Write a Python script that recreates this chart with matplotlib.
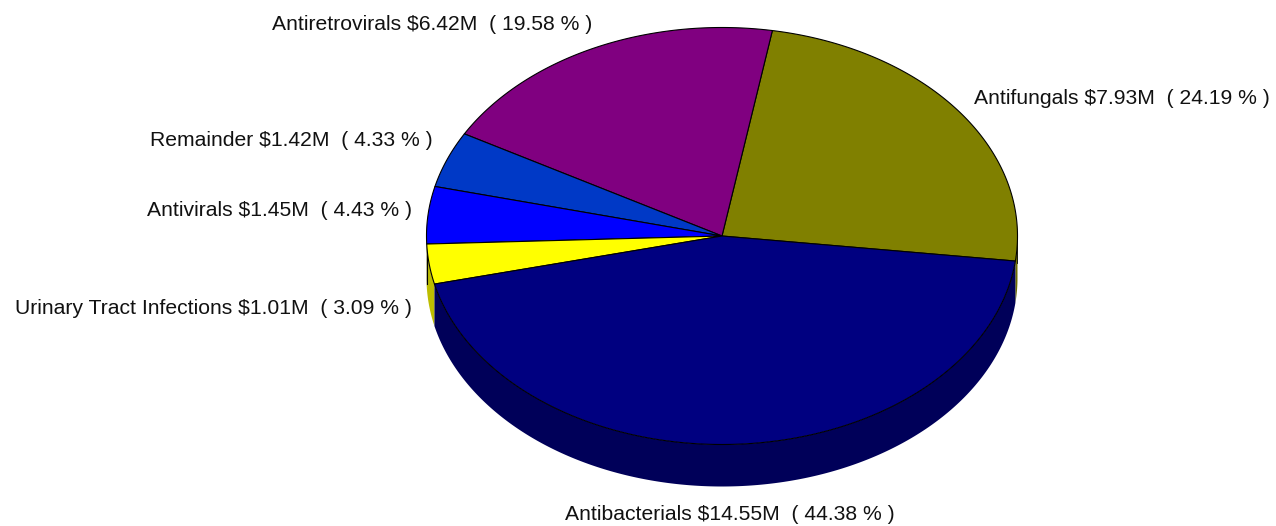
import numpy as np
import matplotlib
matplotlib.use("Agg")
import matplotlib.pyplot as plt
from matplotlib.patches import Polygon

plt.rcParams['font.family'] = ['Liberation Sans', 'DejaVu Sans']

categories = ["Antifungals", "Antiretrovirals", "Remainder", "Antivirals",
              "Urinary Tract Infections", "Antibacterials"]
amounts = ["$7.93M", "$6.42M", "$1.42M", "$1.45M", "$1.01M", "$14.55M"]
percents = [24.19, 19.58, 4.33, 4.43, 3.09, 44.38]
top_colors = ["#808000", "#800080", "#0039C6", "#0000FF", "#FFFF00", "#000080"]
side_colors = ["#6E6E00", "#500050", "#00248A", "#00009E", "#BDBD00", "#000059"]

START_ANGLE = -6.9
CX, CY, RX, RY, DEPTH = 722, 236, 295.5, 208.5, 42
label_pos = [(974, 98, 'left'), (592, 24, 'right'), (433, 140, 'right'),
             (412, 210, 'right'), (412, 308, 'right'), (730, 514, 'center')]

fig = plt.figure(figsize=(12.76, 5.26), dpi=100)
ax = fig.add_axes([0, 0, 1, 1])
ax.set_xlim(0, 1276)
ax.set_ylim(526, 0)
ax.axis('off')


def arc(a0, a1, dy=0.0):
    t = np.radians(np.linspace(a0, a1, max(int(abs(a1 - a0) * 2), 2)))
    return np.column_stack([CX + RX * np.cos(t), CY - RY * np.sin(t) + dy])


bounds = START_ANGLE + np.concatenate([[0], np.cumsum(percents)]) * 3.6

# side walls: only the front half of the ellipse (180..360 deg) is visible
for i in range(len(percents)):
    for shift in (0, -360):
        lo = max(bounds[i] + shift, -180)
        hi = min(bounds[i + 1] + shift, 0)
        if hi > lo:
            top = arc(lo, hi)
            bot = arc(lo, hi, DEPTH)[::-1]
            ax.add_patch(Polygon(np.vstack([top, bot]), closed=True,
                                 facecolor=side_colors[i], edgecolor='none', zorder=1))

# silhouette verticals
ax.plot([CX - RX, CX - RX], [CY, CY + DEPTH + 6], color='black', lw=0.8, zorder=2)
ax.plot([CX + RX - 0.5, CX + RX - 0.5], [CY, CY + DEPTH - 15], color='black', lw=0.6, zorder=2)

# top faces
for i in range(len(percents)):
    pts = np.vstack([[CX, CY], arc(bounds[i], bounds[i + 1])])
    ax.add_patch(Polygon(pts, closed=True, facecolor=top_colors[i],
                         edgecolor='black', lw=0.8, joinstyle='round', zorder=3))

for name, amt, pct, (x, y, ha) in zip(categories, amounts, percents, label_pos):
    ax.text(x, y, f"{name} {amt}  ( {pct:.2f} % )", ha=ha, va='center',
            fontsize=15.2, color='#111111', zorder=4)

fig.savefig("out.png", dpi=100)
